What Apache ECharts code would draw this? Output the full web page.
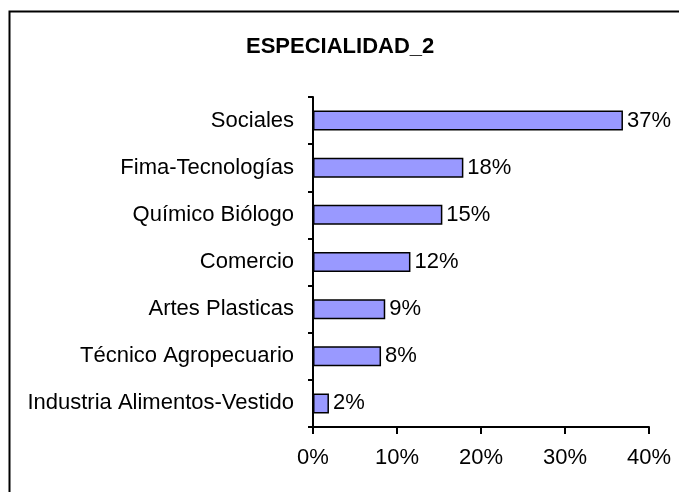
<!DOCTYPE html>
<html>
<head>
<meta charset="utf-8">
<script src="https://cdn.jsdelivr.net/npm/echarts@6/dist/echarts.min.js"></script>
<style>
html,body{margin:0;padding:0;background:#fff;}
#chart{width:679px;height:492px;}
</style>
</head>
<body>
<div id="chart"></div>
<script>
const title = 'ESPECIALIDAD_2';
const categories = ['Sociales', 'Fima-Tecnologías', 'Químico Biólogo', 'Comercio', 'Artes Plasticas', 'Técnico Agropecuario', 'Industria Alimentos-Vestido'];
const values = [36.9, 17.9, 15.4, 11.6, 8.6, 8.1, 1.9];
const xTicks = [0, 10, 20, 30, 40];

const chart = echarts.init(document.getElementById('chart'), null, {renderer: 'canvas'});
const font = 'Liberation Sans, Arial, sans-serif';
chart.setOption({
  animation: false,
  backgroundColor: '#fff',
  graphic: [{
    type: 'rect', left: 7, top: 9, z: 100,
    shape: {x: 0, y: 0, width: 700, height: 500},
    style: {fill: 'none', stroke: '#000', lineWidth: 2}
  }],
  title: {
    text: title, left: 241, top: 31,
    textStyle: {fontFamily: font, fontWeight: 'bold', fontSize: 22, color: '#000'}
  },
  grid: {left: 313, right: 30, top: 97, bottom: 65, containLabel: false},
  xAxis: {
    type: 'value', min: xTicks[0], max: xTicks[xTicks.length - 1], interval: 10,
    splitLine: {show: false},
    axisLine: {show: true, lineStyle: {color: '#000', width: 2}},
    axisTick: {show: true, length: 7, lineStyle: {color: '#000', width: 2}},
    axisLabel: {fontFamily: font, fontSize: 22, color: '#000', margin: 20, formatter: v => v + '%'}
  },
  yAxis: {
    type: 'category', data: categories, inverse: true,
    axisLine: {show: true, lineStyle: {color: '#000', width: 2}},
    axisTick: {show: true, length: 5, lineStyle: {color: '#000', width: 2}},
    axisLabel: {fontFamily: font, fontSize: 22, color: '#000', margin: 19}
  },
  series: [{
    type: 'bar', data: values, barWidth: 20,
    itemStyle: {color: '#9999FF', borderColor: '#000', borderWidth: 1.5},
    label: {
      show: true, position: 'right', distance: 4,
      fontFamily: font, fontSize: 22, color: '#000',
      formatter: p => Math.round(p.value) + '%'
    }
  }]
});
</script>
</body>
</html>
